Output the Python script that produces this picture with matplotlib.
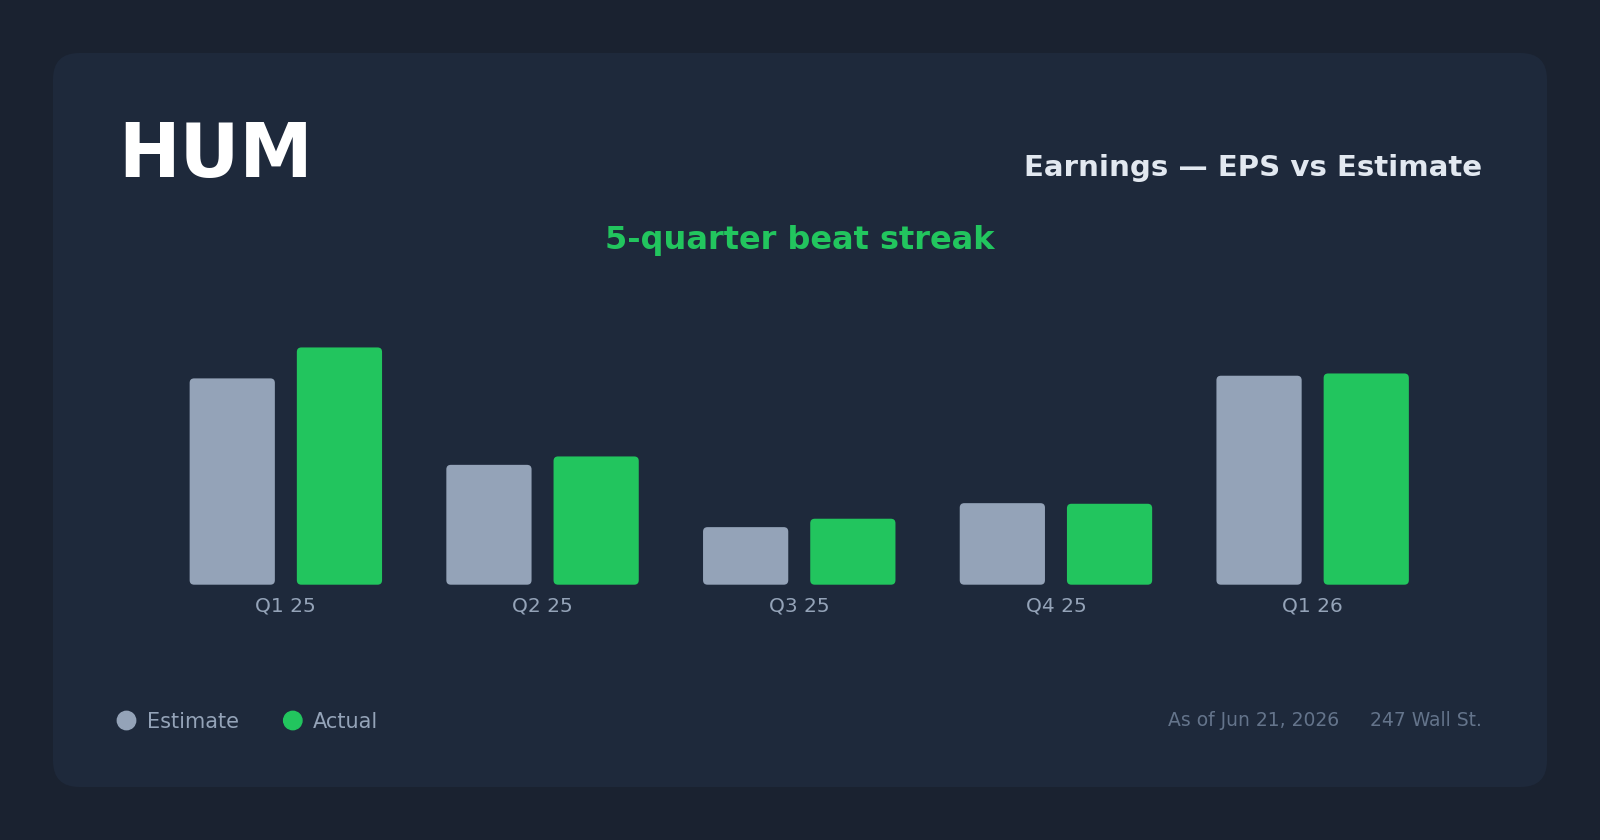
import matplotlib.pyplot as plt
from matplotlib.patches import FancyBboxPatch, Ellipse

# data
quarters = ["Q1 25", "Q2 25", "Q3 25", "Q4 25", "Q1 26"]
estimate = [10.07, 5.85, 2.81, 3.98, 10.20]
actual = [11.58, 6.26, 3.22, 3.95, 10.31]

ticker = "HUM"
title = "Earnings \u2014 EPS vs Estimate"
subtitle = "5-quarter beat streak"
as_of = "As of Jun 21, 2026"
source = "247 Wall St."

BG = "#1a2230"
CARD = "#1e293b"
EST_C = "#94a3b8"
ACT_C = "#22c55e"

W, H = 1600, 840
fig = plt.figure(figsize=(16, 8.4), dpi=100)
fig.patch.set_facecolor(BG)

def fx(px):
    return px / W

def fy(py):
    return 1 - py / H

# card background (under the axes)
card = FancyBboxPatch((fx(53), fy(787)), fx(1547 - 53), (787 - 53) / H,
                      boxstyle="round,pad=0,rounding_size=0.0165",
                      mutation_aspect=W / H,
                      transform=fig.transFigure, facecolor=CARD,
                      edgecolor="none", zorder=-5)
fig.patches.append(card)

# header texts
fig.text(fx(118.5), fy(176.5), ticker, color="white", fontsize=53,
         fontweight="bold", ha="left", va="baseline")
fig.text(fx(1482), fy(176.5), title, color="#e2e8f0", fontsize=21.1,
         fontweight="bold", ha="right", va="baseline")
fig.text(fx(800), fy(249.5), subtitle, color=ACT_C, fontsize=23,
         fontweight="bold", ha="center", va="baseline")

# chart axes
ax = fig.add_axes([fx(157.5), fy(584.7), fx(1441 - 157.5), (584.7 - 300) / H])
ax.set_facecolor("none")
x = list(range(len(quarters)))
bw = 0.332
off = 0.2088
b1 = ax.bar([i - off for i in x], estimate, width=bw, color=EST_C)
b2 = ax.bar([i + off for i in x], actual, width=bw, color=ACT_C)
ax.set_xlim(-0.5, len(quarters) - 0.5)
ax.set_ylim(0, max(actual) * 1.2)

# rounded bar corners
px_x = (1441 - 157.5) / len(quarters)
px_y = (584.7 - 300) / (max(actual) * 1.2)
for bars in (b1, b2):
    for r in bars:
        r.set_visible(False)
        p = FancyBboxPatch((r.get_x(), r.get_y()), r.get_width(), r.get_height(),
                           boxstyle="round,pad=0,rounding_size=%f" % (4.5 / px_x),
                           mutation_aspect=px_x / px_y,
                           facecolor=r.get_facecolor(), edgecolor="none")
        ax.add_patch(p)

ax.set_xticks(x)
ax.set_xticklabels(quarters, color=EST_C, fontsize=14.5)
ax.tick_params(axis="x", length=0, pad=8.3)
ax.set_yticks([])
for s in ax.spines.values():
    s.set_visible(False)

# legend
for cx, lab, col, tx in [(126.5, "Estimate", EST_C, 147), (292.8, "Actual", ACT_C, 313)]:
    fig.patches.append(Ellipse((fx(cx), fy(720.5)), 18.4 / W, 18.4 / H,
                               transform=fig.transFigure, color=col))
    fig.text(fx(tx), fy(719.5), lab, color=EST_C, fontsize=15,
             ha="left", va="center_baseline")

# footer
fig.text(fx(1482), fy(726.5), source, color="#64748b", fontsize=13.5,
         ha="right", va="baseline")
fig.text(fx(1339), fy(726.5), as_of, color="#64748b", fontsize=13.5,
         ha="right", va="baseline")

fig.savefig("out.png", dpi=100, facecolor=BG)
